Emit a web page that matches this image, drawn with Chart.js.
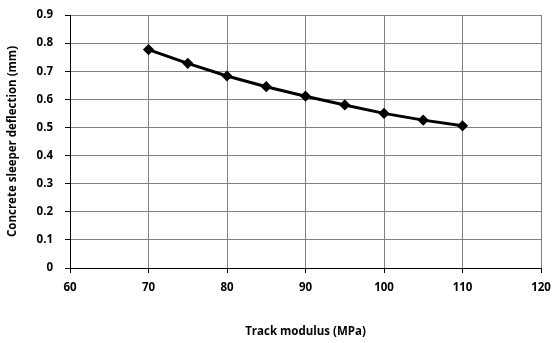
<!DOCTYPE html>
<html>
<head>
<meta charset="utf-8">
<script src="https://cdn.jsdelivr.net/npm/chart.js@4/dist/chart.umd.min.js"></script>
<style>
  html, body { margin: 0; padding: 0; background: #fff; }
  #wrap { width: 554px; height: 343px; }
</style>
</head>
<body>
<div id="wrap"><canvas id="chart"></canvas></div>
<script>
const modulus = [70, 75, 80, 85, 90, 95, 100, 105, 110];
const deflection = [0.777, 0.728, 0.683, 0.645, 0.611, 0.580, 0.550, 0.526, 0.506];
const xTitle = 'Track modulus (MPa)';
const yTitle = 'Concrete sleeper deflection (mm)';

const font = { family: "'Open Sans', sans-serif", size: 11.5, weight: 'bold' };
const ctx = document.getElementById('chart');

new Chart(ctx, {
  type: 'line',
  data: {
    datasets: [{
      data: modulus.map((x, i) => ({ x: x, y: deflection[i] })),
      borderColor: '#000',
      backgroundColor: '#000',
      borderWidth: 3,
      pointStyle: 'rectRot',
      pointRadius: 3.5,
      tension: 0
    }]
  },
  options: {
    responsive: true,
    maintainAspectRatio: false,
    animation: false,
    layout: { padding: { top: 15, right: 13, bottom: 0, left: 0 } },
    scales: {
      x: {
        type: 'linear',
        min: 60, max: 120,
        ticks: { stepSize: 10, color: '#000', font: font, padding: 8 },
        grid: { color: '#808080', tickLength: 5, tickColor: '#000' },
        border: { color: '#000' },
        title: { display: true, text: xTitle, color: '#000', font: font, padding: { top: 10 } },
        afterFit: (s) => { s.height = 75; s.paddingLeft = 0; s.paddingRight = 0; }
      },
      y: {
        min: 0, max: 0.9,
        ticks: { stepSize: 0.1, color: '#000', font: font, padding: 12, callback: v => Math.round(v * 10) / 10 },
        grid: { color: '#808080', tickLength: 5, tickColor: '#000' },
        border: { color: '#000' },
        title: { display: true, text: yTitle, color: '#000', font: font, padding: { top: 6, bottom: 0 } },
        afterFit: (s) => { s.width = 70; s.paddingTop = 0; s.paddingBottom = 0; }
      }
    },
    plugins: {
      legend: { display: false },
      tooltip: { enabled: false }
    }
  }
});
</script>
</body>
</html>
